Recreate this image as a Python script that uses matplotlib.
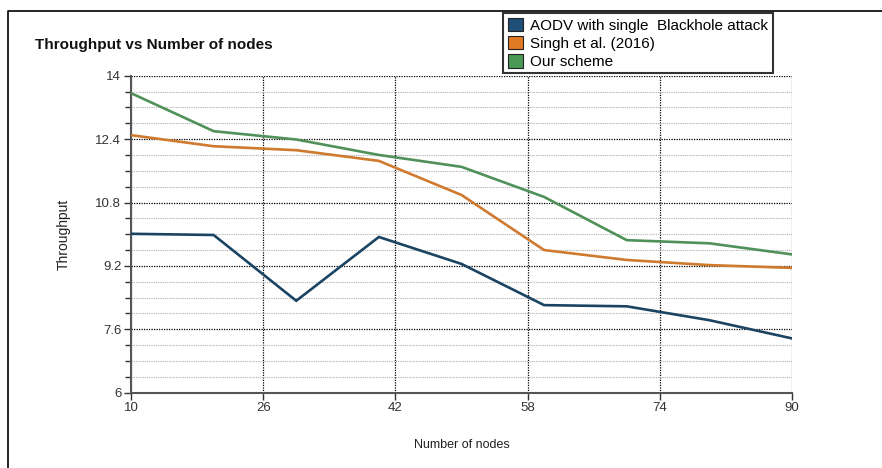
import matplotlib.pyplot as plt
from matplotlib.patches import Patch
from matplotlib.lines import Line2D
from matplotlib.ticker import MultipleLocator, FormatStrFormatter

plt.rcParams['font.family'] = ['Liberation Sans', 'DejaVu Sans']

nodes = [10, 20, 30, 40, 50, 60, 70, 80, 90]
aodv = [10.01, 9.98, 8.32, 9.93, 9.25, 8.21, 8.18, 7.83, 7.37]
singh = [12.5, 12.22, 12.12, 11.85, 10.99, 9.6, 9.35, 9.22, 9.15]
ours = [13.56, 12.6, 12.39, 12.0, 11.7, 10.94, 9.85, 9.77, 9.49]
labels = ["AODV with single  Blackhole attack", "Singh et al. (2016)", "Our scheme"]
line_colors = ["#1b4463", "#cf7a2e", "#4f9159"]
patch_colors = ["#1f4e79", "#e07b24", "#4a9a55"]
x_ticks = [10, 26, 42, 58, 74, 90]
y_ticks = [6, 7.6, 9.2, 10.8, 12.4, 14]

fig = plt.figure(figsize=(8.82, 4.68), dpi=100)
ax = fig.add_axes([131/882, 1 - 392.7/468, (792 - 131)/882, (392.7 - 75.7)/468])

for ys, c in zip([aodv, singh, ours], line_colors):
    ax.plot(nodes, ys, color=c, lw=1.9, solid_joinstyle='miter', zorder=3)

ax.set_xlim(10, 90)
ax.set_ylim(6, 14)
ax.set_xticks(x_ticks)
ax.set_yticks(y_ticks)
ax.yaxis.set_minor_locator(MultipleLocator(0.4))
ax.yaxis.set_major_formatter(FormatStrFormatter('%g'))

ax.grid(True, which='major', color='black', ls=(0, (1, 1)), lw=0.9)
ax.grid(True, which='minor', axis='y', color='#b0b0b0', ls=(0, (1, 1)), lw=0.8)
for s in ['top', 'right']:
    ax.spines[s].set_visible(False)
for s in ['left', 'bottom']:
    ax.spines[s].set_color('#555555')
    ax.spines[s].set_linewidth(1.5)
ax.tick_params(which='major', direction='out', length=5, width=1, color='#333333',
               labelsize=9.5, labelcolor='#333333', pad=2)
ax.tick_params(which='minor', direction='out', length=4, width=1, color='#333333')

ax.set_xlabel("Number of nodes", fontsize=9, color='#222222', labelpad=18)
ax.set_ylabel("Throughput", fontsize=10, color='#222222', labelpad=18)

fig.text(35/882, 1 - 45/468, "Throughput vs Number of nodes", fontsize=11,
         fontweight='bold', va='center', ha='left', color='#111111')

handles = [Patch(facecolor=c, edgecolor='#222222', lw=0.8) for c in patch_colors]
leg = fig.legend(handles, labels, loc='upper left', bbox_to_anchor=(503/882, 1 - 13/468),
                 fontsize=11, frameon=True, fancybox=False, handlelength=1.0,
                 handleheight=1.0, handletextpad=0.5, labelspacing=0.2,
                 borderpad=0.3, borderaxespad=0)
leg.get_frame().set_edgecolor('black')
leg.get_frame().set_linewidth(1.5)

# outer frame, cut off at right and bottom like the reference
fig.add_artist(Line2D([8/882, 8/882, 1], [0, 1 - 11/468, 1 - 11/468],
                      color='black', lw=1.2, transform=fig.transFigure))

fig.savefig("out.png", dpi=100)
